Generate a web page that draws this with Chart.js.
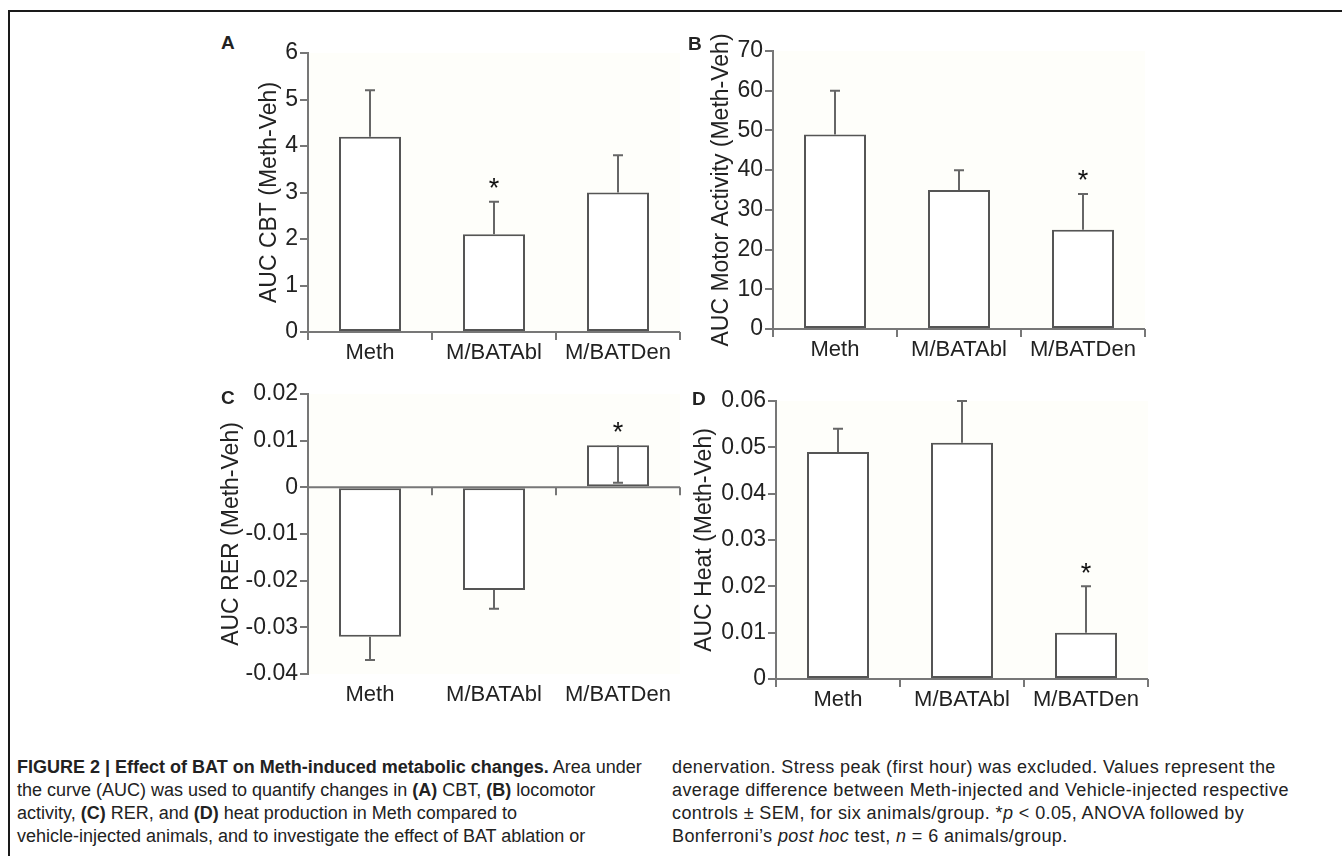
<!DOCTYPE html>
<html>
<head>
<meta charset="utf-8">
<script src="https://cdn.jsdelivr.net/npm/chart.js@4.4.0/dist/chart.umd.min.js"></script>
<style>
  body { margin: 0; width: 1342px; height: 856px; background: #fff; position: relative; overflow: hidden;
         font-family: "Liberation Sans", Arial, sans-serif; color: #222; }
  .frame { position: absolute; left: 8px; top: 10px; width: 1400px; height: 900px;
           border-left: 2px solid #1a1a1a; border-top: 2px solid #1a1a1a; }
  canvas { position: absolute; }
  .letter { position: absolute; font-weight: bold; font-size: 19px; line-height: 19px; }
  .cap { position: absolute; font-size: 18px; line-height: 23px; white-space: nowrap; }
  .right { letter-spacing: 0.4px; }
</style>
</head>
<body>
<div class="frame"></div>

<canvas id="chartA"></canvas>
<canvas id="chartB"></canvas>
<canvas id="chartC"></canvas>
<canvas id="chartD"></canvas>

<div class="letter" style="left:221px; top:33px;">A</div>
<div class="letter" style="left:688px; top:34px;">B</div>
<div class="letter" style="left:221px; top:388px;">C</div>
<div class="letter" style="left:692px; top:389px;">D</div>

<div class="cap" style="left:17px; top:756px;"><b>FIGURE 2 | Effect of BAT on Meth-induced metabolic changes.</b> Area under</div>
<div class="cap" style="left:17px; top:779px;">the curve (AUC) was used to quantify changes in <b>(A)</b> CBT, <b>(B)</b> locomotor</div>
<div class="cap" style="left:17px; top:802px;">activity, <b>(C)</b> RER, and <b>(D)</b> heat production in Meth compared to</div>
<div class="cap" style="left:17px; top:825px;">vehicle-injected animals, and to investigate the effect of BAT ablation or</div>

<div class="cap right" style="left:672px; top:756px;">denervation. Stress peak (first hour) was excluded. Values represent the</div>
<div class="cap right" style="left:672px; top:779px;">average difference between Meth-injected and Vehicle-injected respective</div>
<div class="cap right" style="left:672px; top:802px;">controls ± SEM, for six animals/group. *<i>p</i> &lt; 0.05, ANOVA followed by</div>
<div class="cap right" style="left:672px; top:825px;">Bonferroni’s <i>post hoc</i> test, <i>n</i> = 6 animals/group.</div>

<script>
const categories = ['Meth', 'M/BATAbl', 'M/BATDen'];

// A - core body temperature
const cbtValues = [4.2, 2.1, 3.0];
const cbtErrorEnds = [5.2, 2.8, 3.8];
const cbtSignificant = [false, true, false];
const cbtTicks = [0, 1, 2, 3, 4, 5, 6];

// B - motor activity
const motorValues = [49, 35, 25];
const motorErrorEnds = [60, 40, 34];
const motorSignificant = [false, false, true];
const motorTicks = [0, 10, 20, 30, 40, 50, 60, 70];

// C - RER
const rerValues = [-0.032, -0.022, 0.009];
const rerErrorEnds = [-0.037, -0.026, 0.001];
const rerSignificant = [false, false, true];
const rerTicks = [-0.04, -0.03, -0.02, -0.01, 0, 0.01, 0.02];

// D - heat
const heatValues = [0.049, 0.051, 0.010];
const heatErrorEnds = [0.054, 0.060, 0.020];
const heatSignificant = [false, false, true];
const heatTicks = [0, 0.01, 0.02, 0.03, 0.04, 0.05, 0.06];

Chart.defaults.font.family = '"Liberation Sans", Arial, sans-serif';
Chart.defaults.color = '#222';

const panelExtras = {
  id: 'panelExtras',
  beforeDraw(chart) {
    const { ctx, chartArea: a } = chart;
    ctx.save();
    ctx.fillStyle = '#fefefa';
    ctx.fillRect(a.left, a.top, a.right - a.left, a.bottom - a.top);
    ctx.restore();
  },
  afterDatasetsDraw(chart, args, opts) {
    const { ctx, chartArea: a, scales: { x, y } } = chart;
    const vals = chart.data.datasets[0].data;
    const zero = y.getPixelForValue(0);
    ctx.save();
    ctx.lineWidth = 2;
    ctx.strokeStyle = '#666';
    vals.forEach((v, i) => {
      const cx = x.getPixelForValue(i);
      const y0 = y.getPixelForValue(v);
      const y1 = y.getPixelForValue(opts.errorEnds[i]);
      ctx.beginPath();
      ctx.moveTo(cx, y0);
      ctx.lineTo(cx, y1);
      ctx.moveTo(cx - 5, y1);
      ctx.lineTo(cx + 5, y1);
      ctx.stroke();
      if (opts.significant[i]) {
        const top = Math.min(y0, y1, zero);
        ctx.fillStyle = '#111';
        ctx.font = '27px "Liberation Sans"';
        ctx.textAlign = 'center';
        ctx.textBaseline = 'middle';
        ctx.fillText('*', cx, top - 12);
      }
    });
    // zero line with ticks at the category boundaries
    const half = (x.getPixelForValue(1) - x.getPixelForValue(0)) / 2;
    ctx.strokeStyle = '#777';
    ctx.beginPath();
    ctx.moveTo(a.left, zero);
    ctx.lineTo(a.right, zero);
    for (let i = 0; i <= vals.length; i++) {
      const bx = x.getPixelForValue(0) - half + i * 2 * half;
      ctx.moveTo(bx, zero);
      ctx.lineTo(bx, zero + 8);
    }
    ctx.stroke();
    ctx.restore();
  }
};

function makePanel(id, area, yWidth, title, values, errorEnds, significant, ticks) {
  const canvas = document.getElementById(id);
  const left = area.left - yWidth;
  const top = area.top - 30;
  canvas.width = area.right - left + 12;
  canvas.height = area.bottom + 48 - top;
  canvas.style.left = left + 'px';
  canvas.style.top = top + 'px';

  new Chart(canvas, {
    type: 'bar',
    data: {
      labels: categories,
      datasets: [{
        data: values,
        backgroundColor: '#fff',
        borderColor: '#555',
        borderWidth: 2,
        borderSkipped: false,
        barPercentage: 0.5,
        categoryPercentage: 1
      }]
    },
    options: {
      responsive: false,
      animation: false,
      devicePixelRatio: 1,
      layout: { padding: { top: 30, right: 12, left: 0, bottom: 0 } },
      plugins: {
        legend: { display: false },
        tooltip: { enabled: false },
        panelExtras: { errorEnds: errorEnds, significant: significant }
      },
      scales: {
        x: {
          border: { display: false },
          grid: { display: false, drawTicks: false },
          ticks: { padding: 8, font: { size: 22 }, maxRotation: 0, autoSkip: false },
          afterFit: s => { s.height = 48; }
        },
        y: {
          min: ticks[0],
          max: ticks[ticks.length - 1],
          afterBuildTicks: s => { s.ticks = ticks.map(v => ({ value: v })); },
          afterFit: s => { s.width = yWidth; },
          border: { display: true, color: '#777', width: 2 },
          grid: { drawOnChartArea: false, drawTicks: true, tickLength: 8, color: '#777', lineWidth: 2 },
          ticks: { padding: 2, font: { size: 23 }, callback: v => String(v) },
          title: { display: true, text: title, font: { size: 23 }, padding: 0 }
        }
      }
    },
    plugins: [panelExtras]
  });
}

makePanel('chartA', { left: 308, right: 680, top: 53, bottom: 332 }, 52,
  'AUC CBT (Meth-Veh)', cbtValues, cbtErrorEnds, cbtSignificant, cbtTicks);
makePanel('chartB', { left: 773, right: 1145, top: 51, bottom: 329 }, 65,
  'AUC Motor Activity (Meth-Veh)', motorValues, motorErrorEnds, motorSignificant, motorTicks);
makePanel('chartC', { left: 308, right: 680, top: 394, bottom: 674 }, 90,
  'AUC RER (Meth-Veh)', rerValues, rerErrorEnds, rerSignificant, rerTicks);
makePanel('chartD', { left: 776, right: 1148, top: 401, bottom: 679 }, 85,
  'AUC Heat (Meth-Veh)', heatValues, heatErrorEnds, heatSignificant, heatTicks);
</script>
</body>
</html>
